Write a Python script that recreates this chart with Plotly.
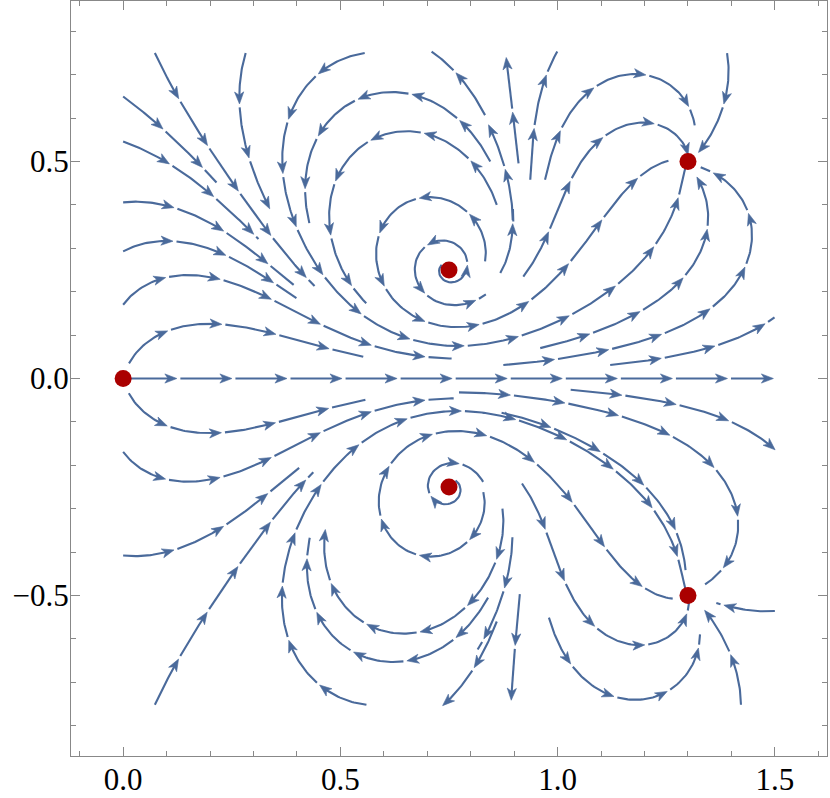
import numpy as np
import plotly.graph_objects as go

# ---------------- data ----------------
# equilibrium points (red dots)
fixed_x = [0.0, 0.75, 0.75, 1.3, 1.3]
fixed_y = [0.0, 0.25, -0.25, 0.5, -0.5]

# streamline start points (upstream end) and end points (nan = stop near other lines)
start_x = [0.005, 0.0135, 0.0, 0.0, 0.0, 0.0, 0.0, 0.073, 0.282, 0.556,
           0.845, 0.86, 0.833, 0.733, 0.833, 0.910, 0.937, 0.971, 0.921, 0.868,
           0.898, 1.121, 0.875, 0.96, 1.390,
           0.013, 0.0, 0.773, 1.030, 0.871, 0.0, 0.073, 0.560, 0.86, 0.913,
           0.896, 1.422, 1.5, 0.829, 0.84, 0.98, 0.918, 0.873, 0.765]
start_y = [0.0, 0.035, 0.170, 0.293, 0.406, 0.546, 0.650, 0.750, 0.750, 0.750,
           0.50, 0.40, 0.27, 0.262, 0.607, 0.496, 0.458, 0.458, 0.235, 0.243,
           0.362, 0.031, 0.031, 0.07, 0.750,
           -0.034, -0.169, -0.032, -0.026, -0.079, -0.408, -0.752, -0.752, -0.56, -0.497,
           -0.366, -0.752, -0.536, -0.262, -0.505, -0.551, -0.242, -0.30, -0.235]
end_x = [1.497, 0.553, 0.756, 0.411, 0.40, 0.311, 0.215, 0.441, 0.338, 1.295,
         0.426, 0.560, 1.255, 0.833, 0.702, 0.879, 1.013, 1.317, 1.298, np.nan,
         np.nan, 1.497, 1.325, np.nan, 1.31,
         0.558, 0.761, 1.344, 1.5, 1.332, 0.403, 0.437, 1.298, 0.705, 0.884,
         1.019, 1.355, 1.365, 1.265, 0.426, 1.333, 1.29, 0.487, np.nan]
end_y = [0.0, 0.051, 0.045, 0.204, 0.225, 0.321, 0.452, 0.214, 0.389, 0.49,
         0.358, 0.174, 0.50, 0.197, 0.75, 0.75, 0.75, 0.584, 0.515, np.nan,
         np.nan, 0.143, 0.475, np.nan, 0.52,
         -0.049, -0.046, -0.482, -0.173, -0.439, -0.204, -0.215, -0.49, -0.752, -0.752,
         -0.752, -0.52, -0.52, -0.505, -0.366, -0.59, -0.51, -0.343, np.nan]

x_ticks = [0.0, 0.5, 1.0, 1.5]
y_ticks = [-0.5, 0.0, 0.5]

# ---------------- vector field with the equilibria as its zeros ----------------
roots = np.array(fixed_x) + 1j * np.array(fixed_y)
deriv = np.array([np.prod([r - q for q in roots if q != r]) for r in roots])
sinks = roots[deriv.real < 0]


def vel(z):
    return np.prod(z - roots)


def unit(z):
    v = vel(z)
    m = abs(v)
    return v / m if m > 1e-14 else 0j


X0, X1, Y0, Y1 = 0.0, 1.5, -0.75, 0.75
H = 0.0012


def integrate(z0, max_len=6.0):
    pts = [z0]
    z = z0
    for _ in range(int(max_len / H)):
        k1 = unit(z)
        k2 = unit(z + 0.5 * H * k1)
        k3 = unit(z + 0.5 * H * k2)
        k4 = unit(z + H * k3)
        z = z + H / 6 * (k1 + 2 * k2 + 2 * k3 + k4)
        if z.real < X0 - 0.004 or z.real > X1 + 0.004 or z.imag < Y0 - 0.004 or z.imag > Y1 + 0.004:
            break
        pts.append(z)
        if np.min(np.abs(z - sinks)) < 0.006:
            break
    return np.array(pts)


paths = []
cloud = np.zeros(0, dtype=complex)
D_TEST = 0.024
for sx, sy, ex, ey in zip(start_x, start_y, end_x, end_y):
    p = integrate(complex(sx, sy))
    if not np.isnan(ex):
        d = np.abs(p - complex(ex, ey))
        cut = None
        tol = 0.02
        for i in range(1, len(d) - 1):
            if d[i] < tol and d[i] <= d[i + 1] and d[i] <= d[i - 1]:
                cut = i
                break
        if cut is None:
            cut = int(np.argmin(d))
        p = p[:cut + 1]
    else:
        if len(cloud):
            skip = int(0.03 / H)
            cut = len(p)
            for i in range(skip, len(p), 4):
                if np.min(np.abs(cloud - p[i])) < D_TEST:
                    cut = i
                    break
            p = p[:cut]
    paths.append(p)
    cloud = np.concatenate([cloud, p[::3]])

# ---------------- split into arrowed segments (pixel space) ----------------
S = 434.0
SEG = 55.0
GAP = 3.5
AL = 12.0
HW = 4.6
NOTCH = 3.2

lx, ly, ax, ay = [], [], [], []
for p in paths:
    if len(p) < 3:
        continue
    X = p.real * S
    Y = p.imag * S
    ds = np.hypot(np.diff(X), np.diff(Y))
    s = np.concatenate([[0], np.cumsum(ds)])
    tot = s[-1]

    def at(v):
        return np.interp(v, s, X), np.interp(v, s, Y)

    k = 0
    while k * SEG < tot - 1:
        a = k * SEG
        b = (k + 1) * SEG - GAP
        arrow = True
        if b > tot:
            b = tot
            arrow = (tot - a) > 0.75 * SEG
        line_end = b - AL * 0.6 if arrow else b
        ss = np.linspace(a, line_end, max(3, int((line_end - a) / 2)))
        px, py = at(ss)
        lx.extend(list(px / S) + [None])
        ly.extend(list(py / S) + [None])
        if arrow:
            tx, ty = at(b)
            bx, by = at(b - 4)
            ux, uy = tx - bx, ty - by
            m = np.hypot(ux, uy) or 1
            ux, uy = ux / m, uy / m
            nx, ny = -uy, ux
            poly = [(tx, ty),
                    (tx - AL * ux + HW * nx, ty - AL * uy + HW * ny),
                    (tx - (AL - NOTCH) * ux, ty - (AL - NOTCH) * uy),
                    (tx - AL * ux - HW * nx, ty - AL * uy - HW * ny),
                    (tx, ty)]
            ax.extend([q[0] / S for q in poly] + [None])
            ay.extend([q[1] / S for q in poly] + [None])
        k += 1

COL = "#4a6a9b"
fig = go.Figure()
fig.add_trace(go.Scatter(x=lx, y=ly, mode="lines", line=dict(color=COL, width=2.1),
                         hoverinfo="skip", showlegend=False))
fig.add_trace(go.Scatter(x=ax, y=ay, mode="lines", fill="toself", fillcolor=COL,
                         line=dict(color=COL, width=0.6), hoverinfo="skip", showlegend=False))
fig.add_trace(go.Scatter(x=fixed_x, y=fixed_y, mode="markers",
                         marker=dict(color="#aa0000", size=17, line=dict(width=0)),
                         hoverinfo="skip", showlegend=False))

axis_common = dict(showgrid=False, zeroline=False, showline=True, linecolor="#888888", linewidth=1.2,
                   mirror="ticks", ticks="inside", ticklen=9, tickwidth=1.2, tickcolor="#888888",
                   tickfont=dict(family="Liberation Serif", size=31, color="black"),
                   minor=dict(ticks="inside", ticklen=5, tickwidth=1.2, tickcolor="#888888", dtick=0.1,
                              showgrid=False))
fig.update_xaxes(range=[-0.12, 1.62], tickvals=x_ticks, ticktext=[f"{v:.1f}" for v in x_ticks],
                 ticklabelstandoff=-4, **axis_common)
fig.update_yaxes(range=[-0.87, 0.87], tickvals=y_ticks,
                 ticktext=[f"{v:.1f}".replace("-", "\u2212") for v in y_ticks],
                 ticklabelstandoff=-5, **axis_common)
fig.update_layout(width=830, height=798, margin=dict(l=71, r=3, t=1, b=42, autoexpand=False),
                  plot_bgcolor="white", paper_bgcolor="white")
fig.write_html("out.html", config={"displayModeBar": False},
               post_script="document.body.style.margin='0px';")
